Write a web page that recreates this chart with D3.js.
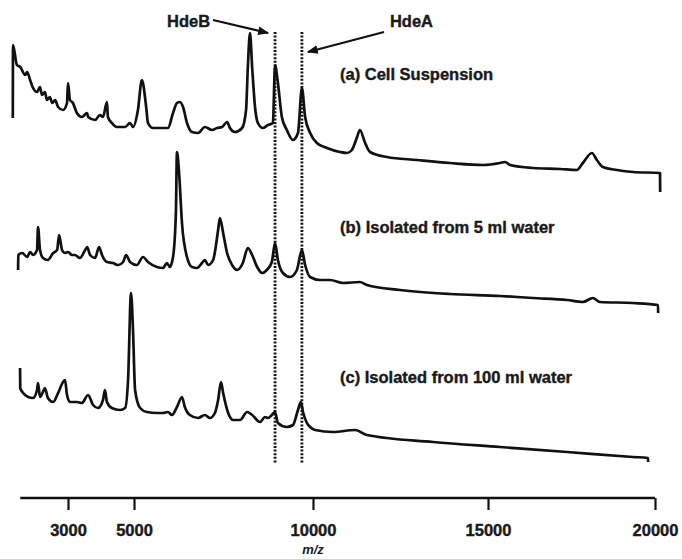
<!DOCTYPE html>
<html>
<head>
<meta charset="utf-8">
<script src="https://cdn.jsdelivr.net/npm/d3@7/dist/d3.min.js"></script>
<style>
  html, body { margin: 0; padding: 0; background: #fff; }
  svg { display: block; font-family: Arial, "Liberation Sans", sans-serif; }
</style>
</head>
<body>
<div id="chart"></div>
<script>
// m/z ticks and annotated proteins
var mzTicks = [3000, 5000, 10000, 15000, 20000]
var proteins = ['HdeB', 'HdeA']
var proteinMz = [8940, 9690]
var traceLabels = ['(a) Cell Suspension', '(b) Isolated from 5 ml water', '(c) Isolated from 100 ml water']

// spectra as [m/z, intensity (arb. units)]
var specA = [[1325,77],[1330,150],[1450,130],[1550,128],[1700,120],[1760,123],[1850,115],[1940,107],[2060,103],[2150,108],
  [2210,100],[2300,103],[2360,95],[2450,98],[2520,92],[2610,95],[2700,88],[2850,85],[2970,92],[3000,112],[3060,95],
  [3150,92],[3270,82],[3420,78],[3580,82],[3610,78],[3820,75],[3970,80],[4060,78],[4180,93],[4210,78],[4330,72],
  [4480,68],[4730,68],[4880,72],[4970,68],[5110,85],[5220,115],[5340,88],[5390,72],[5530,67],[5810,67],[5950,67],
  [6090,82],[6200,92],[6280,93],[6370,88],[6480,72],[6620,63],[6790,62],[6980,68],[7180,65],[7320,67],[7460,68],
  [7600,73],[7680,67],[7820,63],[8020,67],[8130,85],[8180,128],[8240,162],[8300,128],[8380,88],[8460,72],[8600,67],
  [8740,70],[8880,72],[8940,130],[9020,112],[9130,78],[9270,65],[9440,55],[9580,62],[9690,107],[9780,78],[9920,62],
  [10110,52],[10400,47],[10770,43],[10970,42],[11110,45],[11260,58],[11340,65],[11490,52],[11630,43],[12110,38],
  [12970,35],[13910,32],[14860,30],[15360,32],[15510,33],[15660,30],[16350,27],[17160,26],[17660,25],[17840,32],
  [18110,42],[18260,35],[18440,28],[18860,25],[19340,23],[20150,22],[20155,3]]

var specB = [[1485,45],[1490,60],[1610,62],[1760,58],[1850,63],[1940,60],[2060,65],[2090,88],[2150,65],[2240,57],
  [2390,55],[2550,62],[2670,65],[2730,80],[2820,65],[2910,62],[3000,63],[3120,60],[3210,60],[3360,57],[3520,65],
  [3580,68],[3670,60],[3820,57],[3940,68],[4030,60],[4180,53],[4360,52],[4520,50],[4670,53],[4760,60],[4880,53],
  [5080,50],[5250,58],[5390,53],[5640,48],[5810,47],[5920,52],[6000,48],[6090,58],[6170,102],[6200,163],[6260,142],
  [6340,92],[6480,58],[6620,48],[6760,47],[6900,52],[6980,55],[7070,50],[7210,55],[7350,85],[7400,97],[7490,82],
  [7600,62],[7740,50],[7880,45],[8040,52],[8180,67],[8300,60],[8440,48],[8580,42],[8710,45],[8850,53],[8940,72],
  [9020,55],[9160,42],[9360,38],[9550,45],[9690,65],[9780,50],[9920,38],[10200,35],[10490,35],[10860,32],[11340,33],
  [11540,30],[12490,25],[13910,21],[15360,19],[16350,17],[17370,15],[17840,13],[18140,17],[18350,13],[19340,12],
  [20090,10],[20095,2]]

var specC = [[1545,97],[1550,77],[1640,72],[1790,68],[1940,67],[2060,75],[2090,82],[2150,68],[2240,73],[2300,77],
  [2390,67],[2550,63],[2700,72],[2850,83],[2910,85],[2970,70],[3060,63],[3270,63],[3420,62],[3610,70],[3760,60],
  [3910,57],[4060,65],[4120,75],[4180,63],[4330,57],[4580,55],[4730,57],[4820,85],[4910,172],[4970,135],[5030,75],
  [5170,57],[5360,53],[5640,52],[5810,52],[5950,53],[6060,50],[6200,58],[6340,68],[6420,58],[6560,50],[6790,47],
  [6980,50],[7120,47],[7260,52],[7350,65],[7430,83],[7490,72],[7630,52],[7770,45],[7960,45],[8160,53],[8300,50],
  [8520,43],[8660,48],[8740,47],[8850,50],[8940,53],[9020,42],[9270,38],[9440,40],[9580,55],[9660,63],[9720,53],
  [9830,42],[9920,38],[10060,35],[10570,33],[11200,35],[11540,30],[13430,23],[15360,18],[17370,13],[19340,8],
  [19790,7],[19795,3]]

var spectra = [specA, specB, specC]

var width = 682, height = 559
var svg = d3.select('#chart').append('svg')
            .attr('width', width)
            .attr('height', height)

// scanned axis is slightly uneven, so a piecewise scale follows the printed ticks
var x = d3.scaleLinear()
          .domain([1300, 3000, 5000, 10000, 15000, 20000])
          .range([12, 68, 134, 313, 488, 655])

// one stacked panel per spectrum
var panelBottoms = [195, 315, 465]
var yScales = panelBottoms.map(function (b) {
  return d3.scaleLinear().domain([0, 150]).range([b, b - 150])
})

// dotted marker lines
svg.selectAll('line.marker')
   .data(proteinMz)
   .enter().append('line')
   .attr('class', 'marker')
   .attr('x1', function (d) { return x(d) })
   .attr('x2', function (d) { return x(d) })
   .attr('y1', 32)
   .attr('y2', 463)
   .attr('stroke', '#111')
   .attr('stroke-width', 2.8)
   .attr('stroke-dasharray', '2,1.6')

// spectra
spectra.forEach(function (spec, i) {
  var line = d3.line()
               .curve(d3.curveMonotoneX)
               .x(function (d) { return x(d[0]) })
               .y(function (d) { return yScales[i](d[1]) })
  svg.append('path')
     .datum(spec)
     .attr('d', line)
     .attr('fill', 'none')
     .attr('stroke', '#111')
     .attr('stroke-width', 2.7)
     .attr('stroke-linejoin', 'round')
})

// trace labels
var labelBaselines = [80, 233, 383]
svg.selectAll('text.trace')
   .data(traceLabels)
   .enter().append('text')
   .attr('class', 'trace')
   .attr('x', 340)
   .attr('y', function (d, i) { return labelBaselines[i] })
   .attr('font-size', 16.5)
   .attr('font-weight', 'bold')
   .attr('fill', '#1a1a1a')
   .attr('stroke', '#1a1a1a')
   .attr('stroke-width', 0.4)
   .text(function (d) { return d })

// arrow heads
svg.append('defs').append('marker')
   .attr('id', 'head')
   .attr('viewBox', '0 0 10 10')
   .attr('refX', 9)
   .attr('refY', 5)
   .attr('markerWidth', 5)
   .attr('markerHeight', 5)
   .attr('orient', 'auto')
   .append('path')
   .attr('d', 'M0,1L10,5L0,9Z')
   .attr('fill', '#111')

// protein labels with arrows
var proteinText = [{ x: 167, anchor: 'start', ax: 213, ay: 20, ex: -7, ey: 33 },
                   { x: 433, anchor: 'end', ax: 384, ay: 32, ex: 6, ey: 52 }]
proteins.forEach(function (p, i) {
  var t = proteinText[i]
  svg.append('text')
     .attr('x', t.x)
     .attr('y', 27)
     .attr('text-anchor', t.anchor)
     .attr('font-size', 16.5)
     .attr('font-weight', 'bold')
     .attr('fill', '#1a1a1a')
     .attr('stroke', '#1a1a1a')
     .attr('stroke-width', 0.4)
     .text(p)
  svg.append('line')
     .attr('x1', t.ax)
     .attr('y1', t.ay)
     .attr('x2', x(proteinMz[i]) + t.ex)
     .attr('y2', t.ey)
     .attr('stroke', '#111')
     .attr('stroke-width', 2.2)
     .attr('marker-end', 'url(#head)')
})

// m/z axis
var axisY = 498
svg.append('line')
   .attr('x1', x(1550))
   .attr('x2', x(20000))
   .attr('y1', axisY)
   .attr('y2', axisY)
   .attr('stroke', '#111')
   .attr('stroke-width', 2.6)

var axis = d3.axisBottom(x)
             .tickValues(mzTicks)
             .tickSize(12)
             .tickPadding(14)
             .tickFormat(d3.format('d'))
var gx = svg.append('g')
            .attr('transform', 'translate(0,' + axisY + ')')
            .call(axis)
gx.select('.domain').remove()
gx.selectAll('.tick line').attr('stroke', '#111').attr('stroke-width', 2.2)
gx.selectAll('.tick text')
  .attr('font-family', 'Arial, "Liberation Sans", sans-serif')
  .attr('font-size', 16.5)
  .attr('font-weight', 'bold')
  .attr('fill', '#1a1a1a')
  .attr('stroke', '#1a1a1a')
  .attr('stroke-width', 0.4)

svg.append('text')
   .attr('x', x(10000))
   .attr('y', 554)
   .attr('text-anchor', 'middle')
   .attr('font-size', 13)
   .attr('font-style', 'italic')
   .attr('font-weight', 'bold')
   .attr('fill', '#1a1a1a')
   .text('m/z')
</script>
</body>
</html>
